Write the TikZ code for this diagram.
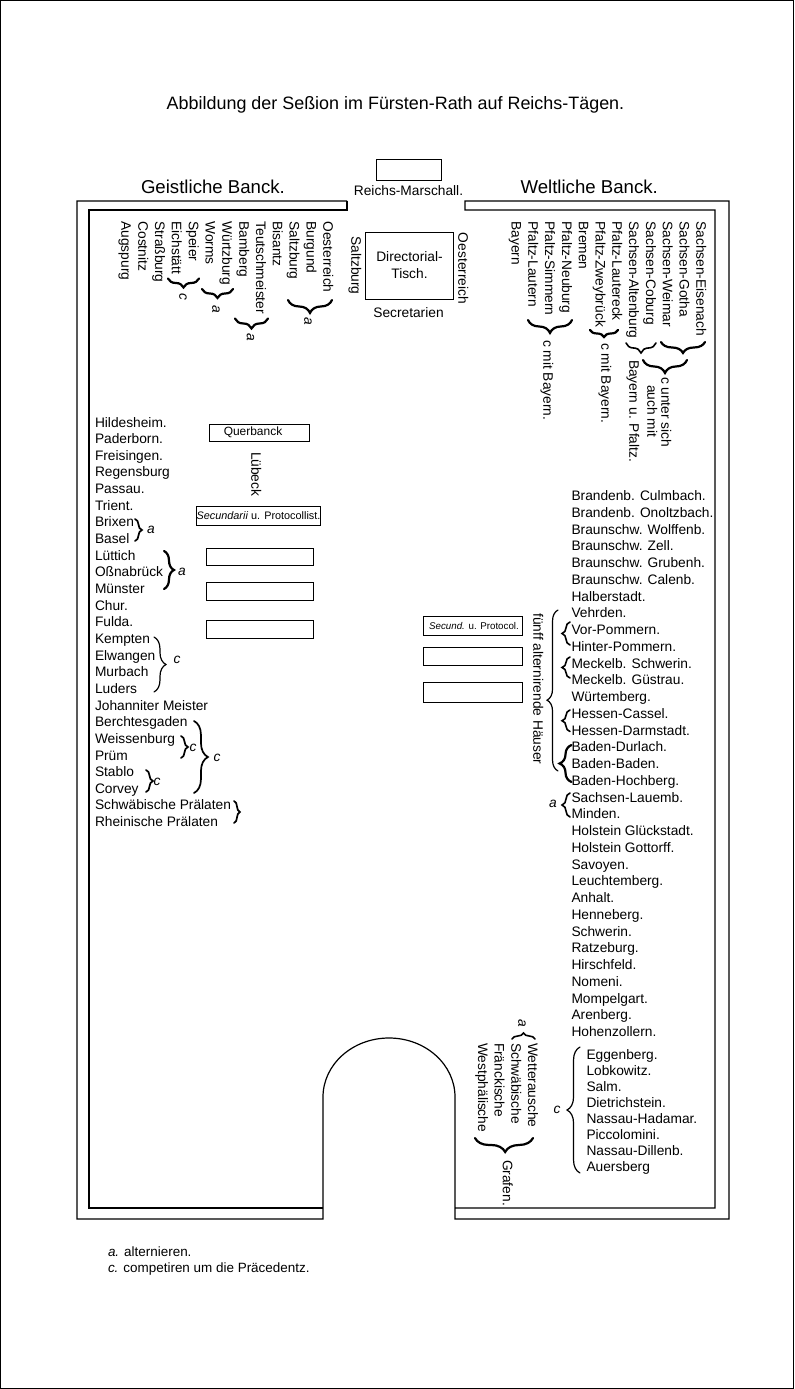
\documentclass[tikz,border=0pt]{standalone}
\usepackage{fontspec}
\setmainfont{Liberation Sans}
\usetikzlibrary{decorations.pathreplacing}
\newcommand\FontN{\fontsize{13.8}{16.7}\selectfont}
\newcommand\FontT{\fontsize{18}{20}\selectfont}
\newcommand\FontB{\fontsize{18.7}{20}\selectfont}
\newcommand\FontQ{\fontsize{12}{14}\selectfont}
\newcommand\FontS{\fontsize{10.9}{13}\selectfont}
\newcommand\FontXs{\fontsize{9.8}{12}\selectfont}
\newcommand\FontF{\fontsize{13.5}{16}\selectfont}
\begin{document}
\begin{tikzpicture}[x=1bp,y=-1bp,
 every node/.style={inner sep=0pt,outer sep=0pt},
 txt/.style={font=\FontN,anchor=base west},
 vtxt/.style={font=\FontN,rotate=-90,anchor=west,text height=10bp,text depth=2.8bp},
 boxd/.style={draw,line width=0.9bp},
 wall/.style={line width=1.2bp},
 brc/.style={decorate,decoration={brace,amplitude=#1},line cap=round},
]
\useasboundingbox (0,0) rectangle (794,1389);
\draw[line width=1bp] (0.5,0.5) rectangle (793.5,1388.5);

% title
\node[font=\FontT,anchor=base] (title) at (395.5,109.5) {Abbildung der Seßion im Fürsten-Rath auf Reichs-Tägen.};
\node[font=\FontB,anchor=base west] (geist) at (141,193.5) {Geistliche Banck.};
\node[font=\FontB,anchor=base west] (welt) at (520.5,193.5) {Weltliche Banck.};

% marschall
\node[boxd,minimum width=65bp,minimum height=20.7bp] (marsch) at (409.2,170.3) {};
\node[font=\FontN,anchor=base] (marscht) at (408.5,196) {Reichs-Marschall.};

% walls
\draw[wall] (347,201) -- (77,201) -- (77,1219) -- (323,1219) -- (323,1097)
  arc[start angle=180,end angle=360,x radius=66,y radius=59]
  -- (455,1219) -- (729,1219) -- (729,201) -- (465,201) -- (465,210)
  -- (715,210) -- (715,1208) -- (455,1208);
\draw[wall] (347,201) -- (347,210) -- (89,210) -- (89,1208) -- (323,1208);

% directorial table
\node[boxd,minimum width=87.6bp,minimum height=66.7bp] (dir) at (409.5,265.6) {};
\node[font=\FontN,align=center] (dirt) at (409.5,265) {Directorial-\\Tisch.};
\node[vtxt] (salz2) at (355,236.5) {Saltzburg};
\node[vtxt] (oest2) at (462,233) {Oesterreich};
\node[font=\FontN] (secr) at (408.5,313) {Secretarien};

% geistliche top columns
\foreach \n [count=\i from 0] in {Oesterreich,Burgund,Saltzburg,Bisantz,Teutschmeister,Bamberg,Würtzburg,Worms,Speier,Eichstätt,Straßburg,Costnitz,Augspurg}
  \node[vtxt] (GL\i) at ({327-16.83*\i},221.5) {\n};
\draw[brc=13,line width=2.2bp] (332,300) -- (288,300);
\node[vtxt,anchor=center,font=\FontN\itshape] (ga1) at (308,321) {a};
\draw[brc=10,line width=2.2bp] (268,318.5) -- (235,318.5);
\node[vtxt,anchor=center,font=\FontN\itshape] (ga2) at (250.5,337) {a};
\draw[brc=9,line width=2.2bp] (233,289) -- (202,289);
\node[vtxt,anchor=center,font=\FontN\itshape] (ga3) at (216,309) {a};
\draw[brc=9,line width=2.2bp] (199,278.5) -- (168,278.5);
\node[vtxt,anchor=center,font=\FontN\itshape] (gc1) at (183,297) {c};

% weltliche top columns
\foreach \n [count=\i from 0] in {Sachsen-Eisenach,Sachsen-Gotha,Sachsen-Weimar,Sachsen-Coburg,Sachsen-Altenburg,Pfaltz-Lautereck,Pfaltz-Zweybrück,Bremen,Pfaltz-Neuburg,Pfaltz-Simmern,Pfaltz-Lautern,Bayern}
  \node[vtxt] (WL\i) at ({700-16.8*\i},221.5) {\n};
\draw[brc=11,line width=2.2bp] (705,342) -- (661,342);
\draw[brc=13,line width=2.2bp] (687,360) -- (643,360);
\draw[brc=10,line width=1.6bp] (656,343) -- (626,343);
\draw[brc=7,line width=2.2bp] (618,330) -- (590,330);
\draw[brc=13,line width=2.2bp] (572,320) -- (528,320);
\node[vtxt] (cus) at (665,377) {c unter sich};
\node[vtxt] (aum) at (651,385) {auch mit};
\node[vtxt] (bup) at (633,360) {Bayern u. Pfaltz.};
\node[vtxt] (cmb1) at (605,343) {c mit Bayern.};
\node[vtxt] (cmb2) at (547,340) {c mit Bayern.};

% querbanck
\node[boxd,minimum width=100bp,minimum height=17bp] (qb) at (259,432.5) {};
\node[font=\FontQ] (qbt) at (253,432.5) {Querbanck};
\node[vtxt] (lub) at (255,452) {Lübeck};
\node[boxd,minimum width=124.7bp,minimum height=19bp] (sec1) at (258.35,515.5) {};
\node[font=\FontS] (sec1t) at (258.5,515.5) {\textit{Secundarii} u. Protocollist.};
\node[boxd,minimum width=107bp,minimum height=17.7bp] (eb1) at (259.5,556.85) {};
\node[boxd,minimum width=107bp,minimum height=17.7bp] (eb2) at (259.5,591.35) {};
\node[boxd,minimum width=107bp,minimum height=17.7bp] (eb3) at (259.5,629.35) {};

% right boxes
\node[boxd,minimum width=98.7bp,minimum height=18.3bp] (sec2) at (472.65,625.85) {};
\node[font=\FontXs] (sec2t) at (474,626) {\textit{Secund.} u. Protocol.};
\node[boxd,minimum width=98.7bp,minimum height=18.4bp] (eb4) at (472.65,656.5) {};
\node[boxd,minimum width=98.7bp,minimum height=19.6bp] (eb5) at (472.65,692.5) {};

% left list
\foreach \n [count=\i from 0] in {Hildesheim.,Paderborn.,Freisingen.,Regensburg,Passau.,Trient.,Brixen,Basel,Lüttich,Oßnabrück,Münster,Chur.,Fulda.,Kempten,Elwangen,Murbach,Luders,Johanniter Meister,Berchtesgaden,Weissenburg,Prüm,Stablo,Corvey,Schwäbische Prälaten,Rheinische Prälaten}
  \node[txt] (L\i) at (95,{427+16.65*\i}) {\n};
\draw[brc=7,line width=1.7bp] (135,519) -- (135,541);
\node[font=\FontN\itshape] (la1) at (151,530) {a};
\draw[brc=10,line width=2.2bp] (164,551) -- (164,589);
\node[font=\FontN\itshape] (la2) at (182,572) {a};
\draw[brc=12,line width=1.2bp] (154,637) -- (154,692);
\node[font=\FontN\itshape] (lc1) at (177,660) {c};
\draw[brc=7,line width=1.7bp] (181,736) -- (181,758);
\node[font=\FontN\itshape] (lc2) at (193,748) {c};
\draw[brc=7,line width=1.7bp] (146,770) -- (146,792);
\node[font=\FontN\itshape] (lc3) at (157,782) {c};
\draw[brc=14,line width=1.7bp] (194,721) -- (194,793);
\node[font=\FontN\itshape] (lc4) at (217,758) {c};
\draw[brc=6,line width=1.7bp] (234,801) -- (234,823);

% right list
\foreach \n [count=\i from 0] in {Brandenb. Culmbach.,Brandenb. Onoltzbach.,Braunschw. Wolffenb.,Braunschw. Zell.,Braunschw. Grubenh.,Braunschw. Calenb.,Halberstadt.,Vehrden.,Vor-Pommern.,Hinter-Pommern.,Meckelb. Schwerin.,Meckelb. Güstrau.,Würtemberg.,Hessen-Cassel.,Hessen-Darmstadt.,Baden-Durlach.,Baden-Baden.,Baden-Hochberg.,Sachsen-Lauemb.,Minden.,Holstein Glückstadt.,Holstein Gottorff.,Savoyen.,Leuchtemberg.,Anhalt.,Henneberg.,Schwerin.,Ratzeburg.,Hirschfeld.,Nomeni.,Mompelgart.,Arenberg.,Hohenzollern.}
  \node[txt] (R\i) at (571.5,{500.5+16.75*\i}) {\n};
\draw[brc=8,line width=1.6bp] (570,645) -- (570,622);
\draw[brc=8,line width=1.6bp] (570,678) -- (570,657);
\draw[brc=8,line width=1.6bp] (570,731.5) -- (570,710);
\draw[brc=12,line width=2.2bp] (571.5,782) -- (571.5,745);
\draw[brc=8,line width=1.6bp] (570,817) -- (570,793);
\node[font=\FontN\itshape] (ra1) at (553,804) {a};
\draw[brc=11,line width=1.2bp,decoration={aspect=0.44}] (558,771) -- (558,610);
\node[vtxt] (fuenf) at (537,613.5) {fünff alternirende Häuser};

% eggenberg group
\foreach \n [count=\i from 0] in {Eggenberg.,Lobkowitz.,Salm.,Dietrichstein.,Nassau-Hadamar.,Piccolomini.,Nassau-Dillenb.,Auersberg}
  \node[txt] (E\i) at (586.5,{1059+16*\i}) {\n};
\draw[brc=13,line width=1.2bp] (580,1173) -- (580,1047);
\node[font=\FontN\itshape] (ec) at (557,1110) {c};

% grafen
\foreach \n [count=\i from 0] in {Wetterausche,Schwäbische,Fränckische,Westphälische}
  \node[vtxt] (G\i) at ({531.7-16.7*\i},1043) {\n};
\draw[brc=6,line width=1.6bp] (512,1039) -- (535,1039);
\node[vtxt,anchor=center,font=\FontN\itshape] (gra) at (522,1023) {a};
\draw[brc=14,line width=2.2bp,decoration={aspect=0.48}] (533,1138) -- (475,1138);
\node[vtxt] (grafen) at (506.5,1160) {Grafen.};

% footnotes
\node[font=\FontF,anchor=base west] (fa) at (108,1256) {\textit{a.} alternieren.};
\node[font=\FontF,anchor=base west] (fc) at (108,1272) {\textit{c.} competiren um die Präcedentz.};
\end{tikzpicture}
\end{document}
